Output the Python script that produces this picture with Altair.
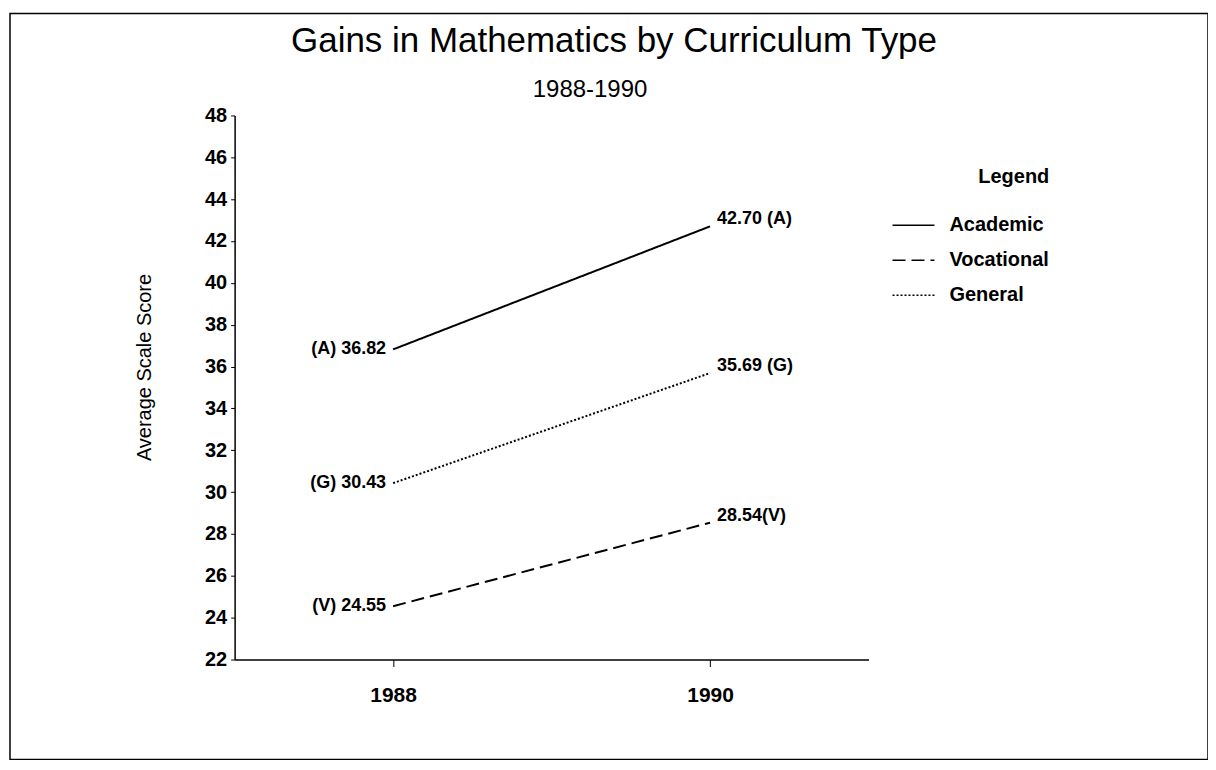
import altair as alt
import pandas as pd

years = [1988, 1990]
curricula = ["Academic", "Vocational", "General"]
codes = ["A", "V", "G"]
academic = [36.82, 42.70]
vocational = [24.55, 28.54]
general = [30.43, 35.69]
y_ticks = list(range(22, 49, 2))
x_ticks = [1988, 1990]
title_text = "Gains in Mathematics by Curriculum Type"
subtitle_text = "1988-1990"

series = {"Academic": academic, "Vocational": vocational, "General": general}
rows = []
for cur, code in zip(curricula, codes):
    vals = series[cur]
    for i, (yr, v) in enumerate(zip(years, vals)):
        if i == 0:
            lab = f"({code}) {v:.2f}"
        else:
            lab = f"{v:.2f}({code})" if code == "V" else f"{v:.2f} ({code})"
        rows.append({"year": yr, "score": v, "curriculum": cur, "label": lab, "side": i})
df = pd.DataFrame(rows)

FONT = "Liberation Sans"

x = alt.X("year:Q", scale=alt.Scale(domain=[1987, 1991], nice=False),
          axis=alt.Axis(values=x_ticks, format="d", title=None, grid=False,
                        labelFontSize=21, labelFontWeight="bold", labelColor="black",
                        tickColor="black", domainColor="black", tickSize=7, labelPadding=18,
                        domainWidth=1.5))
y = alt.Y("score:Q", scale=alt.Scale(domain=[22, 48], nice=False, zero=False),
          axis=alt.Axis(values=y_ticks, title="Average Scale Score", grid=False,
                        labelFontSize=20, labelFontWeight="bold", labelColor="black",
                        tickColor="black", domainColor="black", tickSize=4, labelPadding=4,
                        titleFontSize=20, titleFontWeight="normal", titleColor="black",
                        titleX=-90, titleY=252, titleAngle=-90,
                        titleAlign="center", titleBaseline="middle", domainWidth=1.5))

lines = alt.Chart(df).mark_line(color="black", strokeWidth=2).encode(
    x=x, y=y,
    strokeDash=alt.StrokeDash(
        "curriculum:N",
        scale=alt.Scale(domain=curricula, range=[[1, 0], [13, 6], [2, 2]]),
        sort=curricula,
        legend=alt.Legend(title="Legend", orient="none", legendX=658, legendY=52,
                          titleFontSize=20, titleFontWeight="bold", titleColor="black",
                          titleAnchor="end", titlePadding=16,
                          labelFontSize=20, labelFontWeight="bold", labelColor="black",
                          labelOffset=14,
                          symbolType="stroke", symbolSize=1764, symbolStrokeWidth=1.5,
                          symbolStrokeColor="black", rowPadding=3)),
    detail="curriculum:N",
)

left_labels = alt.Chart(df).transform_filter("datum.side == 0").mark_text(
    align="right", baseline="middle", dx=-7, dy=0, fontSize=18, fontWeight="bold",
    font=FONT, color="black"
).encode(x=alt.X("year:Q"), y=alt.Y("score:Q"), text="label:N")

right_labels = alt.Chart(df).transform_filter("datum.side == 1").mark_text(
    align="left", baseline="middle", dx=7, dy=-7, fontSize=18, fontWeight="bold",
    font=FONT, color="black"
).encode(x=alt.X("year:Q"), y=alt.Y("score:Q"), text="label:N")

one = pd.DataFrame({"f": [0]})
frame = alt.Chart(one).mark_rect(
    fill=None, stroke="black", strokeWidth=1.5
).encode(x=alt.value(-225), x2=alt.value(975), y=alt.value(-102), y2=alt.value(645))

title = alt.Chart(one).mark_text(
    fontSize=35, font=FONT, color="black", align="center", baseline="alphabetic", text=title_text
).encode(x=alt.value(380), y=alt.value(-64))

subtitle = alt.Chart(one).mark_text(
    fontSize=24, font=FONT, color="black", align="center",
    baseline="alphabetic", text=subtitle_text
).encode(x=alt.value(356), y=alt.value(-18))

chart = alt.layer(frame, title, subtitle, lines, left_labels, right_labels).properties(
    width=635, height=545,
    padding={"left": 227, "top": 107, "right": 340, "bottom": 102},
    autosize=alt.AutoSizeParams(type="none"),
).configure(font=FONT, background="white").configure_view(stroke=None)

chart.save("out.html", embed_options={"renderer": "svg", "actions": False})
